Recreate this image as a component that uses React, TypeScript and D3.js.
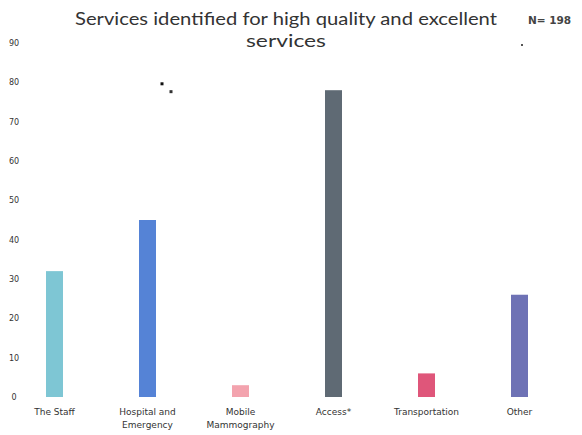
import React from "react";
import * as d3 from "d3";

const categories = ["The Staff", "Hospital and Emergency", "Mobile Mammography", "Access*", "Transportation", "Other"];
const categoryLines = [["The Staff"], ["Hospital and", "Emergency"], ["Mobile", "Mammography"], ["Access*"], ["Transportation"], ["Other"]];
const values = [32, 45, 3, 78, 6, 26];
const colors = ["#7ec6d4", "#5583d6", "#f3a3ae", "#5f6a74", "#df567a", "#6e72b5"];
const yTicks = [0, 10, 20, 30, 40, 50, 60, 70, 80, 90];
const titleLines = ["Services identified for high quality and excellent", "services"];
const titleWidths = [422, 80];
const sampleNote = "N= 198";

const W = 582;
const H = 435;

export default function App() {
  const x = d3.scalePoint<string>().domain(categories).range([8, 566]).padding(0.5);
  const y = d3.scaleLinear().domain([0, 90]).range([397, 43]);
  const barW = 17;
  const titleFont = "Lato, 'DejaVu Sans', sans-serif";
  const labelFont = "'DejaVu Sans', sans-serif";

  return (
    <svg width={W} height={H} style={{ position: "fixed", left: 0, top: 0, background: "#fff" }}>
      <rect width={W} height={H} fill="#fff" />
      {titleLines.map((t, i) => (
        <text
          key={t}
          x={286}
          y={25 + i * 22}
          textAnchor="middle"
          fontSize={18}
          fill="#333"
          fontFamily={titleFont}
          textLength={titleWidths[i]}
          lengthAdjust="spacingAndGlyphs"
        >
          {t}
        </text>
      ))}
      <text x={528} y={24} fontSize={10.5} fontWeight="bold" fill="#444" fontFamily={labelFont}>{sampleNote}</text>
      <rect x={521} y={44} width={2} height={2} fill="#555" />

      {yTicks.map((t) => (
        <text key={t} x={14} y={y(t) + 3} textAnchor="middle" fontSize={8} fill="#333" fontFamily={labelFont}>
          {t}
        </text>
      ))}

      {categories.map((c, i) => (
        <rect
          key={c}
          x={(x(c) as number) - barW / 2}
          y={y(values[i])}
          width={barW}
          height={y(0) - y(values[i])}
          fill={colors[i]}
        />
      ))}

      <rect x={(x(categories[1]) as number) + 13} y={y(79.5) - 2} width={3} height={3} fill="#111" />
      <rect x={(x(categories[1]) as number) + 22} y={y(77.5) - 2} width={3} height={3} fill="#333" />

      {categories.map((c, i) => (
        <text key={c} x={x(c) as number} y={415} textAnchor="middle" fontSize={9} fill="#333" fontFamily={labelFont}>
          {categoryLines[i].map((l, j) => (
            <tspan key={l} x={x(c) as number} dy={j === 0 ? 0 : 13}>{l}</tspan>
          ))}
        </text>
      ))}
    </svg>
  );
}
